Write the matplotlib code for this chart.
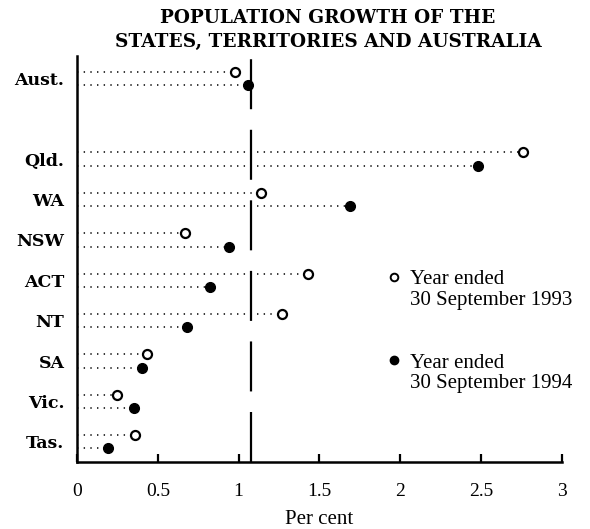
import numpy             as np
import matplotlib
matplotlib.use("Agg")
import matplotlib.pyplot as plt

plt.rcParams['font.family']        = ['Liberation Serif', 'DejaVu Serif']
plt.rcParams['lines.scale_dashes'] = False

# data
regions   = ["Aust.", "Qld.", "WA", "NSW", "ACT", "NT", "SA", "Vic.", "Tas."]
slots     = [0, 2, 3, 4, 5, 6, 7, 8, 9]
y1993     = [0.98, 2.76, 1.14, 0.67, 1.43, 1.27, 0.43, 0.25, 0.36]
y1994     = [1.06, 2.48, 1.69, 0.94, 0.82, 0.68, 0.40, 0.35, 0.19]
aust_ref  = 1.075
xticks    = [0, 0.5, 1, 1.5, 2, 2.5, 3]
xticklbl  = ["0", "0.5", "1", "1.5", "2", "2.5", "3"]
legend_lb = ["Year ended\n30 September 1993", "Year ended\n30 September 1994"]


fig = plt.figure(figsize=(5.90, 5.29), dpi=100)
ax0 = fig.add_axes([0.1305, 0.1267, 0.9525 - 0.1305, 0.894 - 0.1267])

off  = 0.166
pos  = np.array(slots, dtype=float)

ax0.hlines(pos - off, 0, y1993, colors="k", linestyles=(0, (1.0, 3.8)), linewidth=1.1)
ax0.hlines(pos + off, 0, y1994, colors="k", linestyles=(0, (1.0, 3.8)), linewidth=1.1)

ax0.axvline(aust_ref, color="k", linewidth=1.6, linestyle=(0, (36, 14.8)), zorder=1)

ax0.plot(y1993, pos - off, "o", mfc="white", mec="k", mew=1.6, ms=6.5, zorder=3)
ax0.plot(y1994, pos + off, "o", mfc="k",     mec="k", mew=1.0, ms=7.0, zorder=3)

ax0.set_xlim(0, 3)
ax0.set_ylim(9.5, -0.55)

ax0.set_xticks(xticks)
ax0.set_xticklabels(xticklbl, fontsize=14)
ax0.tick_params(axis="x", direction="in", length=6, width=1.6, pad=15)
ax0.set_yticks(pos)
ax0.set_yticklabels(regions, fontsize=12.5, fontweight="bold", family="DejaVu Serif")
ax0.tick_params(axis="y", length=0, pad=9)

for s in ["top", "right"]:
    ax0.spines[s].set_visible(False)
ax0.spines["left"].set_linewidth(1.8)
ax0.spines["bottom"].set_linewidth(1.8)

ax0.set_xlabel("Per cent", fontsize=15, labelpad=7)

# legend drawn by hand
ax0.plot([1.96], [4.92], "o", mfc="white", mec="k", mew=1.4, ms=5.5, clip_on=False)
ax0.text(2.06, 5.24, legend_lb[0], fontsize=15, va="center", ha="left", linespacing=1.1)
ax0.plot([1.96], [6.97], "o", mfc="k", mec="k", ms=6.0, clip_on=False)
ax0.text(2.06, 7.31, legend_lb[1], fontsize=15, va="center", ha="left", linespacing=1.1)

fig.text(0.556, 1 - 30 / 529, "POPULATION GROWTH OF THE\nSTATES, TERRITORIES AND AUSTRALIA",
         ha="center", va="center", fontsize=13.3, fontweight="bold",
         family="DejaVu Serif", linespacing=1.45)

plt.savefig("out.png", dpi=100)
